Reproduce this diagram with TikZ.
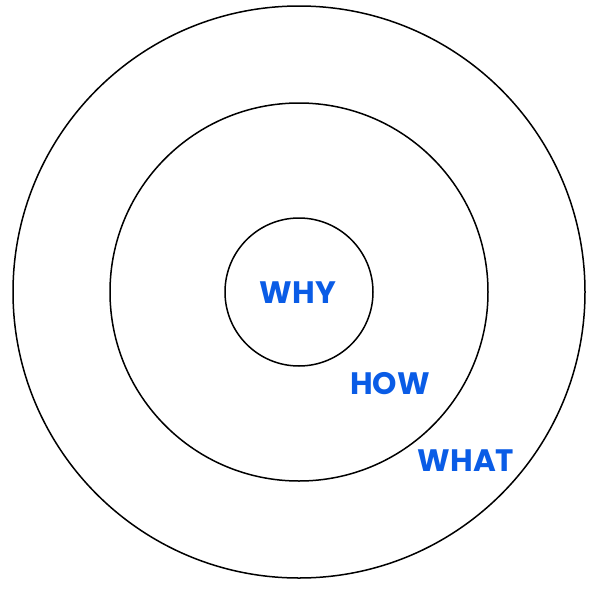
\documentclass[tikz,border=0pt]{standalone}
\usepackage{fontspec}
\setmainfont{Poppins}[BoldFont={* Bold}]
\definecolor{lblblue}{HTML}{0A5CE6}
\begin{document}
\begin{tikzpicture}[x=1pt,y=-1pt,
  ring/.style={draw=black,line width=1.5pt},
  lbl/.style={text=lblblue,font=\fontsize{31}{31}\selectfont\bfseries,inner sep=0pt,anchor=center}]
\useasboundingbox (0,0) rectangle (600,600);
\node[ring,circle,minimum size=572pt,inner sep=0pt] (outer) at (299,292) {};
\node[ring,circle,minimum size=378pt,inner sep=0pt] (middle) at (299,292) {};
\node[ring,circle,minimum size=148pt,inner sep=0pt] (inner) at (299,292) {};
\node[lbl] (why) at (298,293) {WHY};
\node[lbl] (how) at (390,384) {HOW};
\node[lbl] (what) at (466,461) {WHAT};
\end{tikzpicture}
\end{document}
